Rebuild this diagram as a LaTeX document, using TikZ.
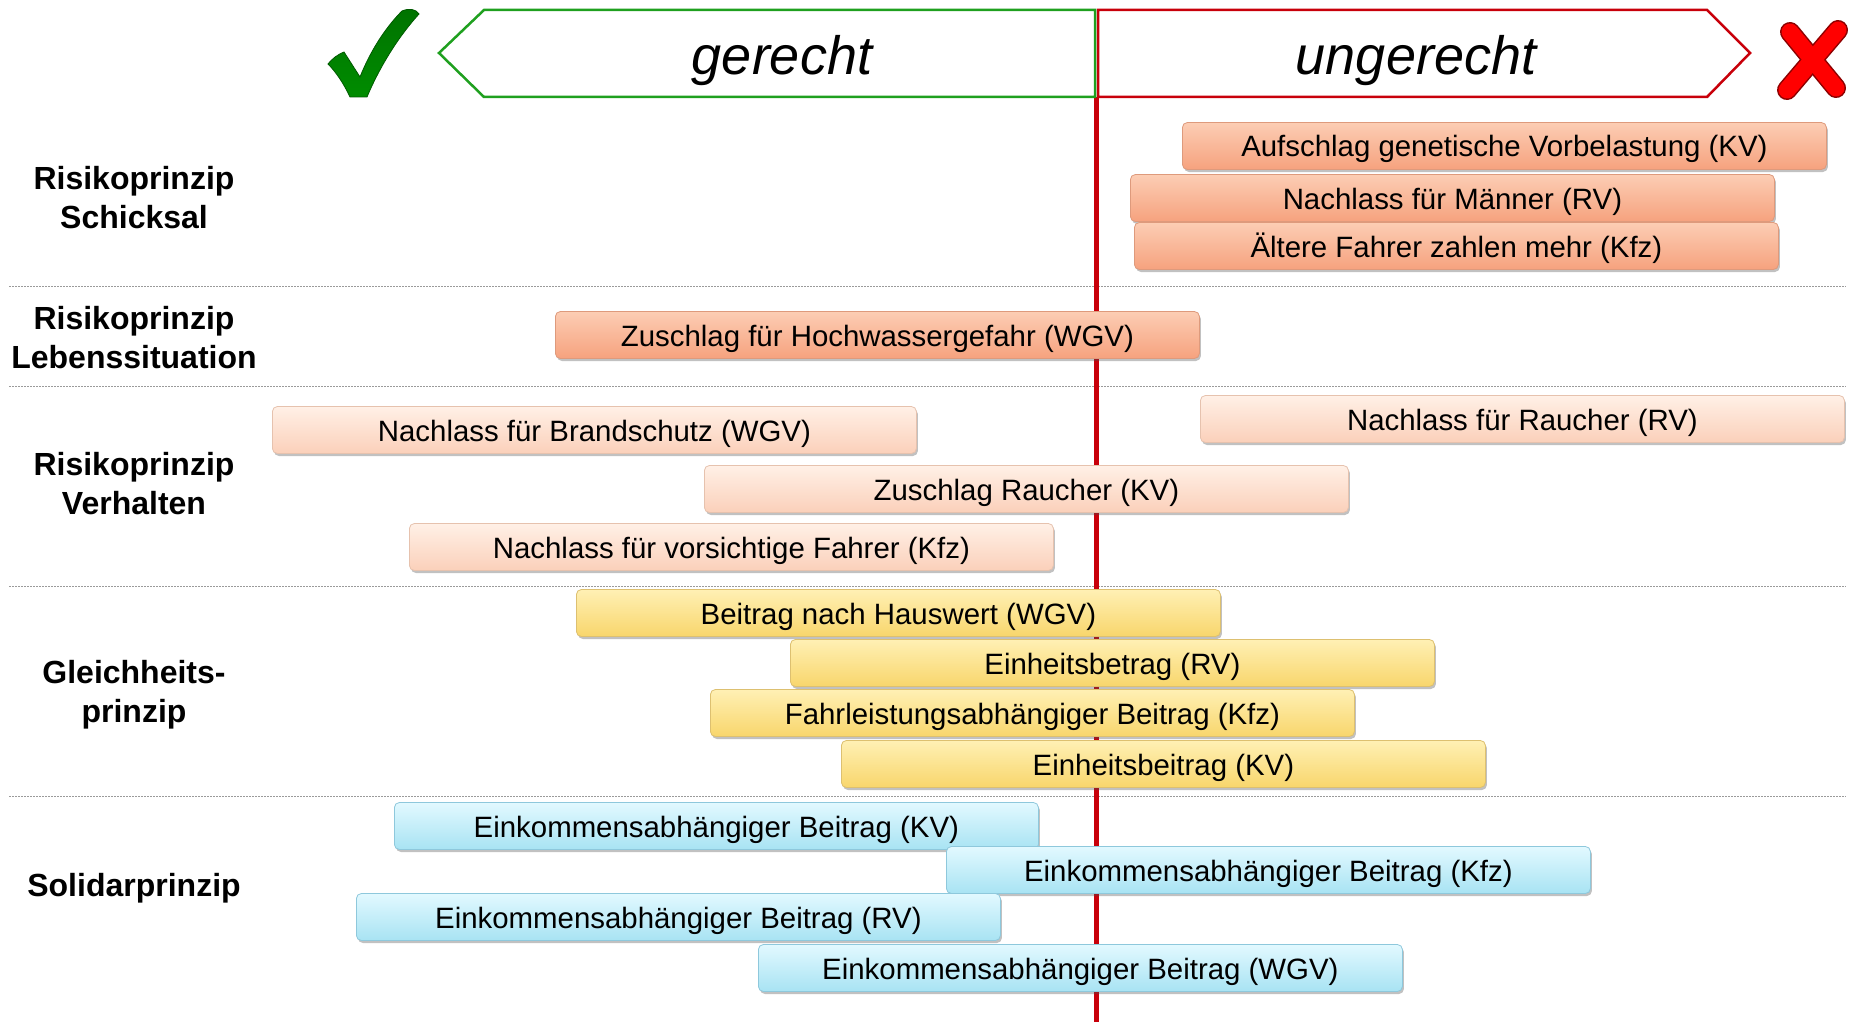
\documentclass[tikz,border=0pt]{standalone}
\usepackage{fontspec}
\setmainfont{Liberation Sans}
\usetikzlibrary{shadows}
\definecolor{gline}{HTML}{1FA01F}
\definecolor{rline}{HTML}{C8000A}
\definecolor{oTop}{HTML}{FCCDB4}
\definecolor{oMid}{HTML}{F9B08E}
\definecolor{oBot}{HTML}{F6A27E}
\definecolor{oDraw}{HTML}{DE9A7C}
\definecolor{pTop}{HTML}{FFF0E6}
\definecolor{pMid}{HTML}{FDDACA}
\definecolor{pBot}{HTML}{FBD0BA}
\definecolor{pDraw}{HTML}{E6C2AE}
\definecolor{yTop}{HTML}{FFF0B4}
\definecolor{yMid}{HTML}{FCE28A}
\definecolor{yBot}{HTML}{F8D66C}
\definecolor{yDraw}{HTML}{DDC070}
\definecolor{bTop}{HTML}{E2F9FF}
\definecolor{bMid}{HTML}{C0EFFA}
\definecolor{bBot}{HTML}{A8E3F3}
\definecolor{bDraw}{HTML}{8EC8DC}
\definecolor{sep}{HTML}{9A9A9A}
\tikzset{
  bar/.style={rounded corners=5pt, minimum width=644pt, minimum height=47pt,
    inner sep=0pt, anchor=west, font=\fontsize{29.4}{34}\selectfont, line width=0.8pt,
    text height=26pt, text depth=4pt,
    drop shadow={shadow xshift=1.5pt, shadow yshift=-2.5pt, opacity=0.35, fill=black!70}},
  obar/.style={bar, draw=oDraw, top color=oTop, middle color=oMid, bottom color=oBot},
  pbar/.style={bar, draw=pDraw, top color=pTop, middle color=pMid, bottom color=pBot},
  ybar/.style={bar, draw=yDraw, top color=yTop, middle color=yMid, bottom color=yBot},
  bbar/.style={bar, draw=bDraw, top color=bTop, middle color=bMid, bottom color=bBot},
  rowlabel/.style={align=center, font=\fontsize{32}{39}\selectfont\bfseries, inner sep=0pt},
  headtext/.style={font=\fontsize{54}{60}\selectfont\itshape, inner sep=0pt},
  sepline/.style={sep, line width=0.9pt, dash pattern=on 1.5pt off 1.5pt}
}
\begin{document}
\begin{tikzpicture}[x=1pt,y=-1pt]
\useasboundingbox (0,0) rectangle (1852,1022);
% separators
\foreach \yy in {286,386,586,796} \draw[sepline] (9,\yy) -- (1846,\yy);
% vertical red line
\draw[rline, line width=5pt] (1096,97) -- (1096,1022);
% header arrows
\draw[gline, line width=2.5pt, line join=miter] (1095,10) -- (484,10) -- (439,53) -- (484,97) -- (1095,97) -- cycle;
\draw[rline, line width=2.5pt, line join=miter] (1098,10) -- (1707,10) -- (1750,53) -- (1707,97) -- (1098,97) -- cycle;
\node[headtext] (ger) at (782,61) {gerecht};
\node[headtext] (unger) at (1416,61) {ungerecht};
% check mark
\shade[top color=green!45!black, bottom color=green!55!black, draw=green!35!black, line width=0.8pt]
  (328,64) .. controls (333,58) and (337,55) .. (344,52)
  -- (360,77)
  .. controls (372,47) and (388,25) .. (402,11)
  .. controls (409,8) and (416,9) .. (419,14)
  .. controls (399,36) and (380,66) .. (367,97)
  -- (350,97)
  .. controls (344,84) and (336,72) .. cycle;
% X mark
\draw[red!55!black, line width=20pt, line cap=round] (1790,32) -- (1836,88);
\draw[red!55!black, line width=20pt, line cap=round] (1838,30) -- (1787,90);
\draw[red, line width=17pt, line cap=round] (1790,32) -- (1836,88);
\draw[red, line width=17pt, line cap=round] (1838,30) -- (1787,90);
% row labels
\node[rowlabel] (l1) at (134,198) {Risikoprinzip\\Schicksal};
\node[rowlabel] (l2) at (134,338) {Risikoprinzip\\Lebenssituation};
\node[rowlabel] (l3) at (134,484) {Risikoprinzip\\Verhalten};
\node[rowlabel] (l4) at (134,695) {Gleichheits-\\prinzip};
\node[rowlabel] (l5) at (134,888) {Solidarprinzip};
% bars
\node[obar] (b1) at (1182,146) {Aufschlag genetische Vorbelastung (KV)};
\node[obar] (b2) at (1130,198) {Nachlass für Männer (RV)};
\node[obar] (b3) at (1134,246) {Ältere Fahrer zahlen mehr (Kfz)};
\node[obar] (b4) at (555,335) {Zuschlag für Hochwassergefahr (WGV)};
\node[pbar] (b6) at (1200,419) {Nachlass für Raucher (RV)};
\node[pbar] (b5) at (272,430) {Nachlass für Brandschutz (WGV)};
\node[pbar] (b7) at (704,489) {Zuschlag Raucher (KV)};
\node[pbar] (b8) at (409,547) {Nachlass für vorsichtige Fahrer (Kfz)};
\node[ybar] (b9) at (576,613) {Beitrag nach Hauswert (WGV)};
\node[ybar] (b10) at (790,663) {Einheitsbetrag (RV)};
\node[ybar] (b11) at (710,713) {Fahrleistungsabhängiger Beitrag (Kfz)};
\node[ybar] (b12) at (841,764) {Einheitsbeitrag (KV)};
\node[bbar] (b13) at (394,826) {Einkommensabhängiger Beitrag (KV)};
\node[bbar] (b14) at (946,870) {Einkommensabhängiger Beitrag (Kfz)};
\node[bbar] (b15) at (356,917) {Einkommensabhängiger Beitrag (RV)};
\node[bbar] (b16) at (758,968) {Einkommensabhängiger Beitrag (WGV)};
\end{tikzpicture}
\end{document}
